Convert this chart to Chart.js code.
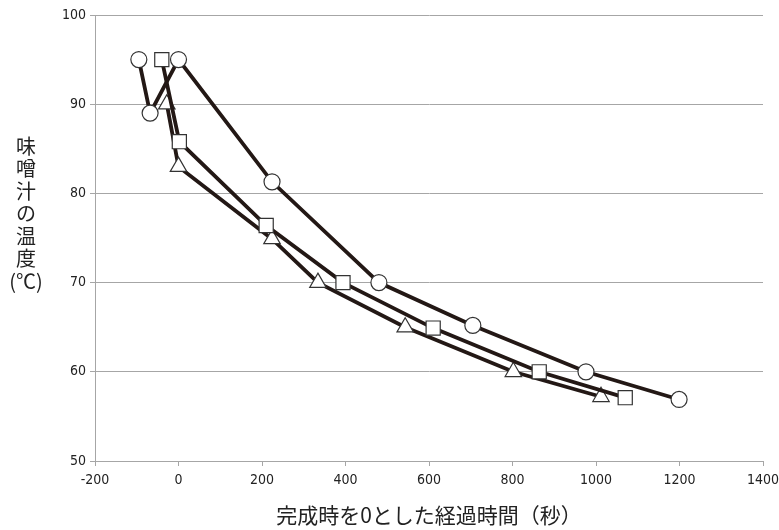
<!DOCTYPE html>
<html>
<head>
<meta charset="utf-8">
<script src="https://cdn.jsdelivr.net/npm/chart.js@4"></script>
<style>
  body { margin: 0; background: #fff; }
  #wrap { width: 779px; height: 530px; position: relative; }
</style>
</head>
<body>
<div id="wrap"><canvas id="chart"></canvas></div>
<script>
// values
const circleX = [-95, -68, 0, 224, 480, 705, 976, 1199];
const circleY = [95, 89, 95, 81.3, 70, 65.2, 60, 56.9];
const squareX = [-40, 2, 210, 394, 610, 864, 1070];
const squareY = [95, 85.8, 76.4, 70, 64.9, 60, 57.1];
const triangleX = [-28, 0, 224, 334, 543, 802, 1012];
const triangleY = [90, 83, 74.9, 70, 65, 60, 57.2];

const xTitle = '完成時を0とした経過時間（秒）';
const yTitleLines = ['味', '噌', '汁', 'の', '温', '度', '(℃)'];

const lineColor = '#231815';
const gridColor = '#a6a6a6';
const tickFont = { family: '"Liberation Sans Narrow", "DejaVu Sans Condensed", sans-serif', size: 14 };
const jpFont = '"Noto Sans CJK JP", sans-serif';

function toPoints(xs, ys) {
    return xs.map((x, i) => ({ x: x, y: ys[i] }));
}

function series(xs, ys, style, radius) {
    return {
        data: toPoints(xs, ys),
        showLine: true,
        borderColor: lineColor,
        borderWidth: 3.8,
        pointStyle: style,
        pointRadius: radius,
        pointHoverRadius: radius,
        pointBackgroundColor: '#fff',
        pointBorderColor: '#333',
        pointBorderWidth: 1.2,
        tension: 0
    };
}

// axis titles drawn by hand: the y one is stacked character by character
const axisTitles = {
    id: 'axisTitles',
    afterDraw(chart) {
        const ctx = chart.ctx;
        const area = chart.chartArea;
        ctx.save();
        ctx.fillStyle = '#222';
        ctx.textAlign = 'center';
        ctx.textBaseline = 'middle';
        ctx.font = '21px ' + jpFont;
        ctx.fillText(xTitle, (area.left + area.right) / 2, 515);
        ctx.font = '20px ' + jpFont;
        yTitleLines.forEach((ch, i) => {
            ctx.fillText(ch, 26, 146 + i * 22.5);
        });
        ctx.restore();
    }
};

new Chart(document.getElementById('chart'), {
    type: 'scatter',
    data: {
        datasets: [
            series(circleX, circleY, 'circle', 8),
            series(squareX, squareY, 'rect', 10),
            series(triangleX, triangleY, 'triangle', 9.5)
        ]
    },
    options: {
        responsive: true,
        maintainAspectRatio: false,
        animation: false,
        layout: { padding: { top: 15, right: 16, left: 0, bottom: 0 } },
        plugins: {
            legend: { display: false },
            tooltip: { enabled: false }
        },
        scales: {
            x: {
                type: 'linear',
                min: -200,
                max: 1400,
                ticks: { stepSize: 200, font: tickFont, color: '#222', padding: 6, maxRotation: 0,
                         callback: v => String(v) },
                grid: { drawOnChartArea: false, drawTicks: true, tickLength: 5, color: gridColor },
                border: { color: gridColor },
                afterFit(scale) {
                    scale.height = 69;
                    scale.paddingRight = 0;
                }
            },
            y: {
                min: 50,
                max: 100,
                ticks: { stepSize: 10, font: tickFont, color: '#222', padding: 4,
                         callback: v => String(v) },
                grid: { color: gridColor, tickLength: 5 },
                border: { color: gridColor },
                afterFit(scale) { scale.width = 95; }
            }
        }
    },
    plugins: [axisTitles]
});
</script>
</body>
</html>
